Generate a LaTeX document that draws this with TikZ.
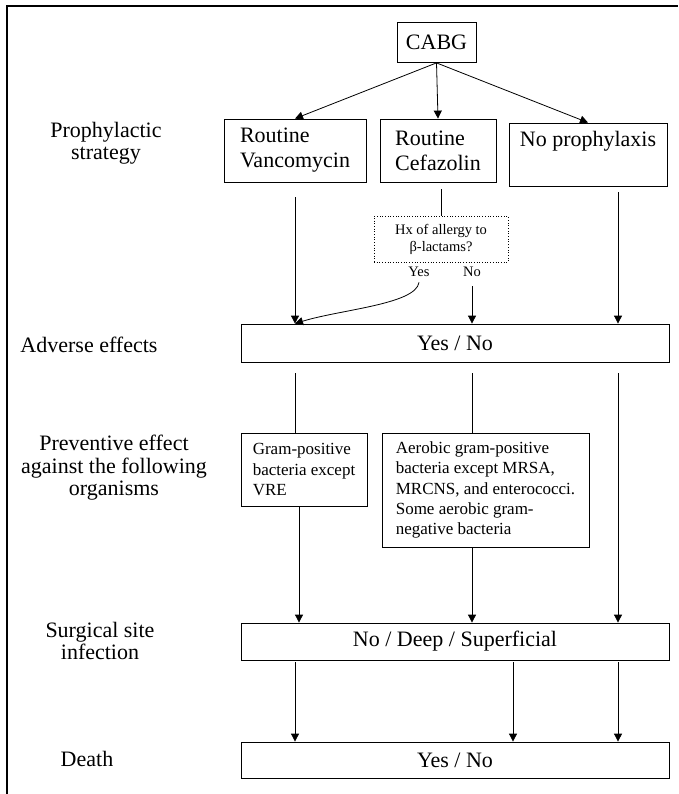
\documentclass[tikz,border=0pt]{standalone}
\usepackage{fontspec}
\setmainfont{Liberation Serif}
\usetikzlibrary{arrows.meta}

\begin{document}
\begin{tikzpicture}[x=1pt,y=-1pt,
  box/.style={draw,line width=0.8pt,align=left,inner sep=0pt,font=\fontsize{22}{25}\selectfont},
  small/.style={font=\fontsize{17}{20.2}\selectfont},
  lab/.style={align=center,inner sep=0pt,font=\fontsize{22}{22.5}\selectfont},
  tiny/.style={font=\fontsize{14.5}{17}\selectfont},
  arr/.style={-{Triangle[length=8pt,width=8pt]},line width=0.8pt},
  ln/.style={line width=0.8pt}]
\useasboundingbox (0,0) rectangle (678,794);
\draw[line width=2.6pt] (7,794) -- (7,6) -- (678,6);

\node[box,minimum width=79pt,minimum height=40pt] (cabg) at (436.5,42.5) {CABG};
\node[box,minimum width=142pt,minimum height=63pt] (vanc) at (295,150.5) {Routine\\Vancomycin};
\node[box,minimum width=116pt,minimum height=63pt] (cef) at (438,150.5) {Routine\\Cefazolin};
\node[box,minimum width=158pt,text height=16pt,text depth=31pt,inner ysep=8pt] (noproph) at (588,154.5) {No prophylaxis};
\node[draw,dotted,line width=0.7pt,tiny,align=center,inner sep=0pt,minimum width=134pt,minimum height=46pt] (hx) at (441,239) {Hx of allergy to\\β-lactams?};
\node[tiny] (yes) at (419,272) {Yes};
\node[tiny] (no) at (472,272) {No};
\node[box,minimum width=428pt,minimum height=38pt] (adv) at (455,343) {Yes / No};
\node[box,small,minimum width=126pt,minimum height=73pt] (gram) at (304,469.5) {Gram-positive\\bacteria except\\VRE};
\node[box,small,minimum width=207pt,minimum height=114pt] (aer) at (485.5,490) {Aerobic gram-positive\\bacteria except MRSA,\\MRCNS, and enterococci.\\Some aerobic gram-\\negative bacteria};
\node[box,minimum width=428pt,minimum height=37pt] (ssi) at (455,641.5) {No / Deep / Superficial};
\node[box,minimum width=428pt,minimum height=36pt] (death) at (455,760) {Yes / No};

\node[lab] (strategy) at (106,143) {Prophylactic\\strategy};
\node[lab] (adverse) at (89,345) {Adverse effects};
\node[lab] (preventive) at (114,468) {Preventive effect\\against the following\\organisms};
\node[lab] (infection) at (100,641) {Surgical site\\infection};
\node[lab] (deathlab) at (87,759) {Death};

\coordinate (r1) at ([shift={(30pt,-6pt)}]noproph.south);
\coordinate (cefout) at ([yshift=-7pt]cef.south);
\coordinate (advout) at ([yshift=-11pt]adv.south);
\coordinate (g1) at ([xshift=-5pt]gram.south);
\coordinate (ssiout) at ([yshift=-2pt]ssi.south);
\coordinate (m) at ([xshift=58pt]ssi.south);

\draw[arr] (cabg.south) -- (vanc.north);
\draw[arr] (cabg.south) -- (cef.north);
\draw[arr] (cabg.south) -- (noproph.north);

\draw[arr] ([yshift=-15pt]vanc.south) -- (vanc.south |- adv.north);
\draw[ln] (hx.north |- cefout) -- (hx.north);
\draw[arr] ([yshift=-6pt]no.south) -- (no.south |- adv.north);
\draw[arr] ([yshift=-2pt]yes.south) .. controls +(-3,22) and +(45,-14) .. (vanc.south |- adv.north);
\draw[arr] (r1) -- (r1 |- adv.north);

\draw[ln] (vanc.south |- advout) -- (vanc.south |- gram.north);
\draw[ln] (no.south |- advout) -- (no.south |- aer.north);
\draw[arr] (r1 |- advout) -- (r1 |- ssi.north);
\draw[arr] (g1) -- (g1 |- ssi.north);
\draw[arr] (no.south |- aer.south) -- (no.south |- ssi.north);

\draw[arr] (vanc.south |- ssiout) -- (vanc.south |- death.north);
\draw[arr] (m |- ssiout) -- (m |- death.north);
\draw[arr] (r1 |- ssiout) -- (r1 |- death.north);
\end{tikzpicture}
\end{document}
